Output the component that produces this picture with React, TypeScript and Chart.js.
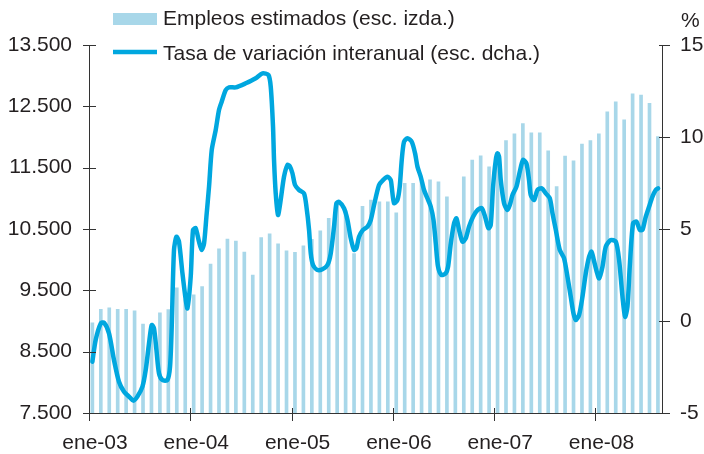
import React, { useEffect, useRef } from 'react';
import { Chart, registerables } from 'chart.js';

Chart.register(...registerables);

// ---- Data ----
const xTickMonths = [0, 12, 24, 36, 48, 60];
const xTickLabels = ['ene-03', 'ene-04', 'ene-05', 'ene-06', 'ene-07', 'ene-08'];
const leftTicks = [7500, 8500, 9500, 10500, 11500, 12500, 13500];
const leftTickLabels = ['7.500', '8.500', '9.500', '10.500', '11.500', '12.500', '13.500'];
const rightTicks = [-5, 0, 5, 10, 15];

const barLabel = 'Empleos estimados (esc. izda.)';
const lineLabel = 'Tasa de variación interanual (esc. dcha.)';

// monthly estimated jobs, Jan-2003 .. Aug-2008
const empleos = [
  8970, 9190, 9215, 9190, 9190, 9165, 8950, 8900, 9135, 9185, 9540, 9350,
  9425, 9560, 9930, 10175, 10335, 10305, 10125, 9750, 10360, 10420, 10258, 10145,
  10120, 10227, 10330, 10470, 10675, 10920, 10800, 10100, 10870, 10970, 10945, 10945,
  10765, 11245, 11245, 11270, 11300, 11270, 11025, 10620, 11350, 11625, 11695, 11515,
  11750, 11940, 12050, 12220, 12070, 12070, 11775, 11190, 11690, 11610, 11885, 11940,
  12050, 12410, 12575, 12280, 12705, 12685, 12550, 12005,
];

// year-on-year rate (%), positions in months since Jan-2003
const lineMonths = [
  0.40, 0.79, 1.39, 1.78, 2.37, 2.96, 3.55, 4.15, 4.74, 5.26, 5.73, 6.33, 6.72, 7.11, 7.43, 7.70,
  7.99, 8.29, 8.70, 9.29, 9.60, 9.80, 10.07, 10.36, 10.66, 11.07, 11.46, 11.66, 12.05, 12.32, 12.64,
  13.03, 13.35, 13.63, 13.91, 14.22, 14.54, 15.01, 15.40, 15.72, 16.20, 16.59, 17.38, 18.57, 19.75,
  20.55, 21.26, 21.53, 21.80, 21.92, 22.12, 22.39, 22.71, 23.10, 23.51, 23.78, 24.10, 24.41, 24.88,
  25.47, 25.76, 26.07, 26.27, 26.54, 27.06, 27.65, 28.25, 28.64, 29.03, 29.31, 29.62, 30.21, 30.62,
  31.01, 31.40, 31.68, 31.99, 32.46, 32.99, 33.38, 33.77, 34.36, 34.83, 35.36, 35.75, 35.86, 36.14,
  36.54, 36.81, 37.05, 37.32, 37.72, 38.23, 38.63, 38.91, 39.30, 39.69, 40.09, 40.49, 40.81, 41.08,
  41.35, 41.75, 42.26, 42.54, 42.86, 43.25, 43.53, 43.84, 44.24, 44.63, 45.02, 45.50, 46.02, 46.53,
  46.92, 47.32, 47.59, 47.87, 48.19, 48.39, 48.58, 48.78, 49.17, 49.57, 49.85, 50.17, 50.64, 51.03,
  51.42, 51.82, 52.13, 52.33, 52.73, 53.13, 53.64, 54.11, 54.59, 54.91, 55.30, 55.77, 56.28, 56.68,
  57.07, 57.39, 57.67, 58.06, 58.46, 58.85, 59.24, 59.53, 59.80, 60.16, 60.43, 60.83, 61.22, 61.81,
  62.41, 62.80, 63.20, 63.51, 63.79, 64.06, 64.45, 64.86, 65.25, 65.57, 65.96, 66.35, 66.75, 67.14,
  67.42,
];
const lineRates = [
  -2.21, -1.03, -0.13, -0.09, -0.67, -2.12, -3.30, -3.84, -4.11, -4.33, -4.11, -3.57, -2.66, -1.21, -0.22, -0.40,
  -1.58, -2.84, -3.21, -3.21, -2.48, -0.31, 3.86, 4.58, 4.31, 2.59, 1.14, 0.69, 2.41, 4.95, 5.04,
  4.31, 3.86, 4.22, 5.67, 7.30, 9.29, 10.38, 11.47, 11.92, 12.55, 12.70, 12.70, 12.92, 13.19,
  13.46, 13.37, 12.73, 10.56, 8.75, 6.94, 5.76, 6.58, 7.84, 8.48, 8.42, 8.03, 7.39, 7.12,
  6.94, 6.21, 4.95, 3.68, 3.04, 2.77, 2.81, 3.04, 3.68, 5.13, 6.40, 6.48, 6.13, 5.49,
  4.49, 3.86, 3.95, 4.58, 4.95, 5.13, 5.49, 6.30, 7.39, 7.66, 7.84, 7.66, 7.30, 6.40,
  6.58, 7.30, 8.75, 9.74, 9.93, 9.74, 9.11, 8.39, 7.84, 7.12, 6.67, 6.21, 5.49, 4.22,
  2.95, 2.50, 2.59, 2.95, 4.22, 5.31, 5.58, 4.95, 4.31, 4.49, 5.13, 5.67, 6.03, 6.13,
  5.67, 5.04, 5.22, 7.30, 8.75, 9.11, 8.93, 7.66, 6.40, 6.03, 6.30, 6.85, 7.30, 8.11,
  8.75, 8.57, 7.66, 6.85, 6.58, 7.12, 7.21, 6.94, 6.67, 5.85, 4.95, 3.86, 3.41, 2.41,
  1.32, 0.42, 0.05, 0.33, 1.32, 2.59, 3.49, 3.77, 3.32, 2.66, 2.32, 2.95, 4.04, 4.40,
  4.31, 3.32, 1.32, 0.23, 0.78, 2.95, 5.31, 5.40, 4.95, 4.95, 5.67, 6.21, 6.76, 7.12,
  7.21,
];

// ---- Styles ----
const BAR_COLOR = '#a8d7e9';
const LINE_COLOR = '#00a7df';
const TEXT_COLOR = '#231f20';
const AXIS_COLOR = '#333333';
const FONT_FAMILY = '"Liberation Sans", Arial, Helvetica, sans-serif';

const decorPlugin = {
  id: 'decor',
  afterDraw(chart: any) {
    const ctx = chart.ctx;
    const { left, right, top, bottom } = chart.chartArea;
    const xs = chart.scales.x;
    const yl = chart.scales.y;
    const yr = chart.scales.y2;
    ctx.save();
    ctx.strokeStyle = AXIS_COLOR;
    ctx.lineWidth = 1;
    ctx.beginPath();
    // axes
    ctx.moveTo(left + 0.5, top);
    ctx.lineTo(left + 0.5, bottom + 0.5);
    ctx.moveTo(right - 0.5, top);
    ctx.lineTo(right - 0.5, bottom + 0.5);
    ctx.moveTo(left, bottom + 0.5);
    ctx.lineTo(right, bottom + 0.5);
    // ticks
    leftTicks.forEach((v) => {
      const y = Math.round(yl.getPixelForValue(v)) + 0.5;
      ctx.moveTo(left - 6, y);
      ctx.lineTo(left + 7, y);
    });
    rightTicks.forEach((v) => {
      const y = Math.round(yr.getPixelForValue(v)) + 0.5;
      ctx.moveTo(right - 4, y);
      ctx.lineTo(right + 7, y);
    });
    xTickMonths.forEach((m) => {
      const x = Math.round(xs.getPixelForValue(m)) + 0.5;
      ctx.moveTo(x, bottom - 5);
      ctx.lineTo(x, bottom + 8);
    });
    ctx.stroke();

    // legend
    ctx.fillStyle = BAR_COLOR;
    ctx.fillRect(113, 13, 44, 12);
    ctx.strokeStyle = LINE_COLOR;
    ctx.lineWidth = 4.5;
    ctx.beginPath();
    ctx.moveTo(113, 52);
    ctx.lineTo(157, 52);
    ctx.stroke();
    ctx.fillStyle = TEXT_COLOR;
    ctx.font = `21px ${FONT_FAMILY}`;
    ctx.textBaseline = 'alphabetic';
    ctx.textAlign = 'left';
    ctx.fillText(barLabel, 163, 25);
    ctx.fillText(lineLabel, 163, 60);
    ctx.fillText('%', 681, 27);
    ctx.restore();
  },
};

const noGrid = { display: false, drawTicks: false, tickLength: 0 };

export default function App() {
  const ref = useRef<HTMLCanvasElement | null>(null);

  useEffect(() => {
    if (!ref.current) return;
    const chart = new Chart(ref.current, {
      type: 'bar',
      data: {
        datasets: [
          {
            type: 'line',
            label: lineLabel,
            data: lineMonths.map((m, i) => ({ x: m, y: lineRates[i] })),
            yAxisID: 'y2',
            xAxisID: 'x',
            borderColor: LINE_COLOR,
            borderWidth: 4.5,
            pointRadius: 0,
            tension: 0.25,
            fill: false,
            order: 0,
            borderCapStyle: 'round',
            borderJoinStyle: 'round',
          } as any,
          {
            type: 'bar',
            label: barLabel,
            data: empleos.map((v, i) => ({ x: i + 0.4, y: v })),
            yAxisID: 'y',
            xAxisID: 'x',
            backgroundColor: BAR_COLOR,
            barThickness: 3,
            order: 1,
          } as any,
        ],
      },
      options: {
        responsive: false,
        animation: false,
        events: [],
        layout: { padding: { top: 45, left: 0, right: 0, bottom: 0 } },
        plugins: {
          legend: { display: false },
          tooltip: { enabled: false },
        },
        scales: {
          x: {
            type: 'linear',
            min: 0,
            max: 68,
            offset: false,
            grid: noGrid,
            border: { display: false },
            afterFit: (s: any) => { s.height = 41; },
            afterBuildTicks: (s: any) => { s.ticks = xTickMonths.map((v) => ({ value: v })); },
            ticks: {
              autoSkip: false,
              maxRotation: 0,
              padding: 18,
              labelOffset: 6,
              color: TEXT_COLOR,
              font: { family: FONT_FAMILY, size: 21 },
              callback: (v: any) => xTickLabels[xTickMonths.indexOf(Number(v))] ?? '',
            },
          },
          y: {
            type: 'linear',
            position: 'left',
            min: 7500,
            max: 13500,
            grid: noGrid,
            border: { display: false },
            afterFit: (s: any) => { s.width = 89; },
            afterBuildTicks: (s: any) => { s.ticks = leftTicks.map((v) => ({ value: v })); },
            ticks: {
              padding: 17,
              color: TEXT_COLOR,
              font: { family: FONT_FAMILY, size: 21 },
              callback: (v: any) => leftTickLabels[leftTicks.indexOf(Number(v))] ?? '',
            },
          },
          y2: {
            type: 'linear',
            position: 'right',
            min: -5,
            max: 15,
            grid: noGrid,
            border: { display: false },
            afterFit: (s: any) => { s.width = 41; },
            afterBuildTicks: (s: any) => { s.ticks = rightTicks.map((v) => ({ value: v })); },
            ticks: {
              padding: 17,
              color: TEXT_COLOR,
              font: { family: FONT_FAMILY, size: 21 },
              callback: (v: any) => String(v),
            },
          },
        },
      } as any,
      plugins: [decorPlugin],
    });
    return () => chart.destroy();
  }, []);

  return (
    <div style={{ position: 'fixed', left: 0, top: 0, width: 704, height: 454, background: '#fff' }}>
      <canvas ref={ref} width={704} height={454} style={{ display: 'block', width: 704, height: 454 }} />
    </div>
  );
}
